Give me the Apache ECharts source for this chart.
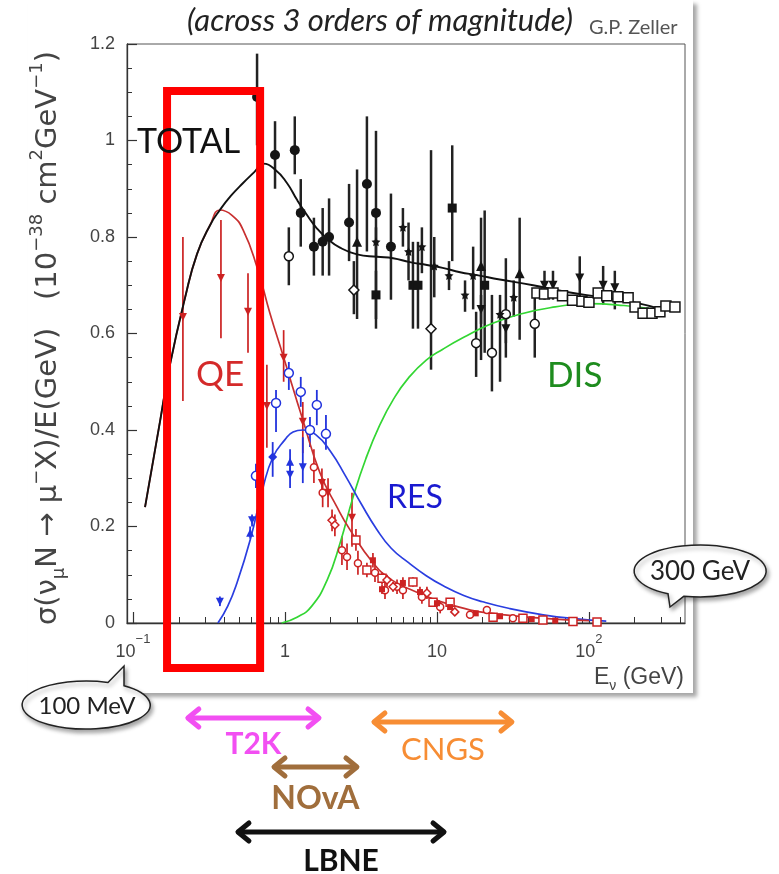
<!DOCTYPE html>
<html><head><meta charset="utf-8">
<script src="https://cdn.jsdelivr.net/npm/echarts@6/dist/echarts.min.js"></script>
<style>html,body{margin:0;padding:0;background:#fff}#c{width:779px;height:874px}</style>
</head><body><div id="c"></div><script>
// ---------------- DATA ----------------
const xMajorTicksE = [0.1, 1, 10, 100];
const xTickLabels = ['10^-1', '1', '10', '10^2'];
const xMinorTicksE = [0.2,0.3,0.4,0.5,0.6,0.7,0.8,0.9, 2,3,4,5,6,7,8,9, 20,30,40,50,60,70,80,90, 200,300,400];

// curves (E in GeV, sigma/E)
const totalE = [0.120,0.151,0.175,0.220,0.264,0.322,0.373,0.44,0.53,0.63,0.716,0.859,1.03,1.20,1.40,1.62,1.89,2.30,2.98,4.03,5.14,6.64,8.59,10.9,14.2,18.3,25.9,42.9,71.6,117,195,309];
const totalS = [0.24,0.42,0.535,0.674,0.765,0.825,0.856,0.885,0.912,0.935,0.952,0.940,0.912,0.877,0.845,0.818,0.797,0.778,0.764,0.759,0.756,0.748,0.742,0.736,0.727,0.721,0.712,0.70,0.686,0.676,0.665,0.649];
const qeE = [0.120,0.151,0.175,0.220,0.264,0.322,0.373,0.448,0.530,0.654,0.796,0.97,1.31,1.70,2.20,2.68,3.79,5.0,6.64,12.2,25.9,100];
const qeS = [0.24,0.42,0.535,0.674,0.765,0.825,0.856,0.845,0.815,0.738,0.642,0.555,0.421,0.311,0.240,0.193,0.125,0.09,0.07,0.038,0.018,0.005];
const resE = [0.362,0.42,0.483,0.59,0.716,0.834,1.0,1.13,1.31,1.6,2.0,2.5,3.2,4.0,5.0,6.5,8.5,11,15,20,30,50,80,130];
const resS = [0,0.035,0.083,0.172,0.28,0.344,0.38,0.396,0.40,0.39,0.355,0.305,0.245,0.195,0.155,0.125,0.098,0.077,0.057,0.044,0.03,0.017,0.009,0.004];
const disE = [0.95,1.2,1.5,1.9,2.3,2.8,3.4,4.2,5.2,6.5,8.5,11,15,22,35,60,100,170,290];
const disS = [0,0.012,0.035,0.09,0.165,0.26,0.34,0.41,0.465,0.508,0.545,0.568,0.592,0.618,0.64,0.655,0.662,0.658,0.649];

// data points [E, sigma, low, high]
const totalFilledCircles = [[0.655,1.09,0.99,1.18],[0.86,0.97,0.90,1.04],[1.16,0.98,0.93,1.05],[1.27,0.85,0.78,0.92],[1.55,0.78,0.72,0.84],[1.77,0.79,0.72,0.86],[1.95,0.80,0.72,0.88],[2.64,0.83,0.75,0.91],[3.46,0.91,0.77,1.05],[3.97,0.85,0.61,1.02],[4.98,0.78,0.67,0.89]];
const totalOpenCircles = [[1.06,0.76,0.70,0.82],[18.1,0.58,0.51,0.645],[23,0.56,0.48,0.68],[28.4,0.64,0.55,0.756],[44,0.62,0.55,0.68]];
const totalSquares = [[3.97,0.68,0.63,0.73],[6.95,0.70,0.61,0.79],[7.5,0.70,0.61,0.79],[12.6,0.86,0.75,0.99],[20.6,0.70,0.56,0.855]];
const totalTriangles = [[2.98,0.79,0.63,0.94],[19.5,0.74,0.545,0.84],[35,0.725,0.587,0.84]];
const totalDiamonds = [[2.84,0.69,0.64,0.75],[9.14,0.61,0.525,0.98]];
const totalStars = [[3.97,0.79,0.76,0.82],[5.97,0.82,0.78,0.86],[6.5,0.77,0.71,0.83],[7.96,0.78,0.725,0.82],[9.6,0.74,0.675,0.80],[12,0.72,0.69,0.75],[15.3,0.68,0.645,0.71],[17.3,0.72,0.65,0.78],[26,0.64,0.50,0.68],[32,0.675,0.635,0.71]];
const totalTriDown = [[19.5,0.65,0.62,0.68],[28.4,0.61,0.58,0.64],[51,0.70,0.67,0.73],[58,0.70,0.67,0.73],[87,0.715,0.66,0.76],[124,0.70,0.66,0.74],[148,0.695,0.65,0.73]];
const totalOpenSquaresE = [45.5,51,58,67,78,90,100,115,131,155,181,201,227,260,293,321,368];
const totalOpenSquaresS = [0.684,0.682,0.684,0.678,0.669,0.667,0.665,0.684,0.678,0.676,0.674,0.655,0.642,0.642,0.645,0.657,0.655];

const qeTriDown = [[0.213,0.634,0.46,0.80],[0.379,0.715,0.59,0.835],[0.571,0.645,0.56,0.725],[0.76,0.45,0.363,0.535],[0.98,0.55,0.50,0.607],[1.31,0.417,0.352,0.458],[1.75,0.29,0.26,0.32],[1.92,0.27,0.24,0.30],[2.76,0.218,0.158,0.27]];
const qeOpenCircles = [[1.55,0.323,0.29,0.36],[1.77,0.27,0.24,0.30],[2.37,0.151,0.12,0.18],[2.56,0.137,0.11,0.165],[3.02,0.124,0.10,0.15],[3.91,0.104,0.085,0.125],[4.55,0.068,0.05,0.09],[5.46,0.075,0.06,0.09],[5.97,0.068,0.05,0.085],[7.96,0.054,0.04,0.07],[10.5,0.033,0.02,0.045],[16.5,0.017,0.01,0.025],[21.3,0.027,0.02,0.035],[31.6,0.010,0.005,0.015]];
const qeOpenSquares = [[2.93,0.172,0.15,0.195],[3.46,0.11,0.095,0.125],[4.35,0.093,0.08,0.105],[6.95,0.085,0.075,0.095],[9.42,0.043,0.035,0.05],[12.2,0.043,0.035,0.05],[23.4,0.012,0.008,0.016],[36.8,0.010,0.006,0.014],[49.8,0.006,0.003,0.009],[78.5,0.003,0.001,0.005],[113,0.002,0.0,0.004]];
const qeDiamonds = [[2.04,0.213,0.19,0.235],[2.13,0.203,0.18,0.225],[4.69,0.089,0.075,0.10],[5.14,0.075,0.065,0.085],[8.59,0.062,0.05,0.075],[13.1,0.023,0.015,0.03]];
const qeFilledSquares = [[3.79,0.13,0.115,0.145],[4.35,0.07,0.06,0.08],[5.97,0.083,0.07,0.095],[7.73,0.064,0.055,0.075],[10.0,0.041,0.035,0.05],[12.2,0.033,0.027,0.04],[18,0.02,0.015,0.025],[26,0.014,0.01,0.018],[42,0.008,0.005,0.011],[60,0.005,0.003,0.007]];

const resOpenCircles = [[0.644,0.305,0.28,0.33],[0.873,0.456,0.396,0.483],[1.06,0.518,0.483,0.541],[1.27,0.479,0.448,0.51],[1.46,0.40,0.365,0.427],[1.62,0.452,0.41,0.483],[1.86,0.392,0.359,0.431]];
const resTriDown = [[0.373,0.044,0.035,0.055],[0.607,0.213,0.20,0.225],[1.08,0.307,0.28,0.33],[1.31,0.323,0.29,0.385]];
const resTriUp = [[0.59,0.187,0.175,0.20],[1.08,0.334,0.31,0.36]];
const resDiamonds = [[0.83,0.344,0.303,0.375]];

// experiment energy ranges (GeV)
const expNames = ['T2K', 'CNGS', 'NOvA', 'LBNE'];
const expLowE = [0.226, 3.79, 0.834, 0.483];
const expHighE = [1.70, 31.6, 3.02, 11.3];
const highlightE = [0.1675, 0.686];
const bubbleTexts = ['300 GeV', '100 MeV'];

// ---------------- LAYOUT / STYLE ----------------
const lg = Math.log10;
const arrowRowY = [718, 722, 767, 832];
const labelRowY = [744, 750, 799, 861];
const expColors = ['#f24ff2', '#f78d34', '#a06e3c', '#111111'];
const expFonts = ['bold 30px Lato', '31px Lato', 'bold 32px Lato', 'bold 30px Lato'];
const boxTop = 1.1026, boxBottom = -0.0933;
const bubblePaths = ['M684,596.2 L670,607 L668,593.7 A66,26 0 1 1 684,596.2 Z', 'M108,682.5 L124,666 L124,685.7 A64,24 0 1 1 108,682.5 Z'];
const bubbleTextPos = [[700, 572], [87, 706]];
const bubbleFonts = ['26px Lato', '24px Lato'];

function pts(a){ return a.map(d => [lg(d[0]), d[1]]); }
function bars(a){ return a.map(d => [lg(d[0]), d[2], d[3]]); }
function curve(E, S){ return E.map((e, i) => [lg(e), S[i]]); }

function errSeries(groups, color, w){
  let data = [];
  groups.forEach(g => { data = data.concat(bars(g)); });
  return {
    type: 'custom', silent: true, z: 4, data: data, encode: {x: 0, y: [1, 2]},
    renderItem: function(params, api){
      const x = api.value(0);
      const p1 = api.coord([x, api.value(1)]), p2 = api.coord([x, api.value(2)]);
      return {type: 'line', shape: {x1: p1[0], y1: p1[1], x2: p2[0], y2: p2[1]}, style: {stroke: color, lineWidth: w}};
    }
  };
}
function sc(data, symbol, size, fill, stroke, rot){
  return {type: 'scatter', silent: true, z: 6, data: data, symbol: symbol, symbolSize: size, symbolRotate: rot || 0,
    itemStyle: {color: fill, borderColor: stroke, borderWidth: fill === '#fff' ? 1.5 : 0, opacity: 1}};
}
function ln(E, S, color, w){
  return {type: 'line', silent: true, z: 5, data: curve(E, S), smooth: 0.5, showSymbol: false, lineStyle: {color: color, width: w}};
}
const star = 'path://M0,-10 L2.9,-4 L9.5,-3.1 L4.7,1.5 L5.9,8.1 L0,5 L-5.9,8.1 L-4.7,1.5 L-9.5,-3.1 L-2.9,-4 Z';

const BLK = '#151515', RED = '#cc2222', BLU = '#2233dd';

const series = [
  errSeries([totalFilledCircles, totalOpenCircles, totalSquares, totalTriangles, totalDiamonds, totalStars, totalTriDown], '#222', 2.5),
  errSeries([qeTriDown, qeOpenCircles, qeOpenSquares, qeDiamonds, qeFilledSquares], RED, 1.7),
  errSeries([resOpenCircles, resTriDown, resTriUp, resDiamonds], BLU, 1.8),
  ln(disE, disS, '#33d633', 1.7),
  ln(resE, resS, '#2a3ee0', 1.7),
  ln(qeE, qeS, '#c83030', 1.7),
  ln(totalE, totalS, '#111', 1.9),
  sc(pts(totalFilledCircles), 'circle', 10, BLK),
  sc(pts(totalOpenCircles), 'circle', 9, '#fff', BLK),
  sc(pts(totalSquares), 'rect', 9, BLK),
  sc(pts(totalTriangles), 'triangle', 10, BLK),
  sc(pts(totalDiamonds), 'diamond', 10, '#fff', BLK),
  sc(pts(totalStars), star, 9, BLK),
  sc(pts(totalTriDown), 'triangle', 9, BLK, null, 180),
  sc(curve(totalOpenSquaresE, totalOpenSquaresS), 'rect', 10, '#fff', BLK),
  sc(pts(qeTriDown), 'triangle', 8, RED, null, 180),
  sc(pts(qeOpenCircles), 'circle', 7, '#fff', RED),
  sc(pts(qeOpenSquares), 'rect', 8, '#fff', RED),
  sc(pts(qeDiamonds), 'diamond', 8, '#fff', RED),
  sc(pts(qeFilledSquares), 'rect', 6, RED),
  sc(pts(resOpenCircles), 'circle', 9, '#fff', BLU),
  sc(pts(resTriDown), 'triangle', 8, BLU, null, 180),
  sc(pts(resTriUp), 'triangle', 8, BLU),
  sc(pts(resDiamonds), 'diamond', 9, BLU),
  { // highlighted energy window
    type: 'custom', silent: true, z: 20, clip: false,
    data: [[lg(highlightE[0]), lg(highlightE[1]), 0]], encode: {x: [0, 1], y: 2},
    renderItem: function(params, api){
      const a = api.coord([api.value(0), boxTop]);
      const b = api.coord([api.value(1), boxBottom]);
      return {type: 'rect', shape: {x: a[0], y: a[1], width: b[0] - a[0], height: b[1] - a[1]},
        style: {fill: 'none', stroke: '#ff0000', lineWidth: 8}};
    }
  },
  { // experiment energy ranges
    type: 'custom', silent: true, z: 20, clip: false,
    data: expNames.map((n, i) => [lg(expLowE[i]), lg(expHighE[i]), 0]), encode: {x: [0, 1], y: 2},
    renderItem: function(params, api){
      const i = params.dataIndex;
      const x1 = api.coord([api.value(0), 0])[0], x2 = api.coord([api.value(1), 0])[0];
      const y = arrowRowY[i], col = expColors[i], h = 9, l = 12;
      const st = {stroke: col, lineWidth: 5, fill: 'none', lineCap: 'round', lineJoin: 'round'};
      return {type: 'group', children: [
        {type: 'line', shape: {x1: x1 + 2, y1: y, x2: x2 - 2, y2: y}, style: st},
        {type: 'polyline', shape: {points: [[x1 + l, y - h], [x1 + 1, y], [x1 + l, y + h]]}, style: st},
        {type: 'polyline', shape: {points: [[x2 - l, y - h], [x2 - 1, y], [x2 - l, y + h]]}, style: st},
        {type: 'text', style: {text: expNames[i], x: (x1 + x2) / 2, y: labelRowY[i], fill: col, font: expFonts[i], align: 'center', verticalAlign: 'middle'}}
      ]};
    }
  },
  { // speech bubbles
    type: 'custom', silent: true, z: 30, clip: false,
    data: bubbleTexts.map((t, i) => [0, 0, i]), encode: {x: 0, y: 1},
    renderItem: function(params, api){
      const i = params.dataIndex;
      return {type: 'group', children: [
        {type: 'path', shape: {pathData: bubblePaths[i]},
         style: {fill: '#fff', stroke: '#222', lineWidth: 1.5, shadowBlur: 4, shadowOffsetX: 2, shadowOffsetY: 3, shadowColor: 'rgba(0,0,0,0.35)'}},
        {type: 'text', style: {text: bubbleTexts[i], x: bubbleTextPos[i][0], y: bubbleTextPos[i][1], font: bubbleFonts[i], fill: '#222', align: 'center', verticalAlign: 'middle'}}
      ]};
    }
  }
];

const chart = echarts.init(document.getElementById('c'), null, {renderer: 'canvas'});
const axisCol = '#333';
chart.setOption({
  animation: false,
  backgroundColor: '#fff',
  grid: {left: 127, right: 94, top: 44, bottom: 251, show: true, borderColor: '#555', borderWidth: 1, backgroundColor: 'transparent'},
  xAxis: [
    {type: 'value', min: -1.0395, max: 2.632, position: 'bottom',
     axisLine: {show: true, onZero: false, lineStyle: {color: axisCol, width: 1.3}},
     splitLine: {show: false},
     axisTick: {show: true, inside: true, length: 11, customValues: xMajorTicksE.map(lg), lineStyle: {color: axisCol, width: 1.2}},
     axisLabel: {customValues: xMajorTicksE.map(lg), margin: 10, color: '#444', fontFamily: 'Liberation Sans', fontSize: 18,
       formatter: function(v){
         const i = xMajorTicksE.findIndex(e => Math.abs(lg(e) - v) < 1e-6);
         const t = xTickLabels[i] || '';
         const p = t.split('^');
         return p.length > 1 ? '{b|' + p[0] + '}{s|' + p[1].replace('-', '\u2212') + '}' : '{b|' + t + '}';
       },
       rich: {b: {fontSize: 18, fontFamily: 'Liberation Sans', color: '#444', lineHeight: 28, verticalAlign: 'bottom'},
              s: {fontSize: 13, fontFamily: 'Liberation Sans', color: '#444', lineHeight: 14, verticalAlign: 'top'}}}
    },
    {type: 'value', min: -1.0395, max: 2.632, position: 'bottom', offset: 0,
     axisLine: {show: false, onZero: false}, splitLine: {show: false}, axisLabel: {show: false},
     axisTick: {show: true, inside: true, length: 6, customValues: xMinorTicksE.map(lg), lineStyle: {color: axisCol, width: 1}}}
  ],
  yAxis: {type: 'value', min: 0, max: 1.2, interval: 0.2,
    axisLine: {show: true, onZero: false, lineStyle: {color: axisCol, width: 1.3}},
    splitLine: {show: false},
    axisTick: {inside: true, length: 10, lineStyle: {color: axisCol, width: 1.2}},
    minorTick: {show: true, splitNumber: 4, length: 5, lineStyle: {color: axisCol, width: 1}},
    axisLabel: {margin: 12, color: '#444', fontFamily: 'Liberation Sans', fontSize: 18}
  },
  series: series,
  graphic: [
    {type: 'rect', z: -10, shape: {x: 28, y: 0, width: 665, height: 693},
     style: {fill: '#fff', shadowBlur: 4, shadowOffsetX: 4, shadowOffsetY: 4, shadowColor: 'rgba(0,0,0,0.35)'}},
    {type: 'text', z: 100, x: 380, y: 21, style: {text: '(across 3 orders of magnitude)', font: 'italic 31px Lato', fill: '#222', align: 'center', verticalAlign: 'middle'}},
    {type: 'text', z: 100, x: 589, y: 28, style: {text: 'G.P. Zeller', font: '20px Lato', fill: '#555', align: 'left', verticalAlign: 'middle'}},
    {type: 'text', z: 100, x: 137, y: 142, style: {text: 'TOTAL', font: '34px Lato', fill: '#111', align: 'left', verticalAlign: 'middle'}},
    {type: 'text', z: 100, x: 196, y: 375, style: {text: 'QE', font: '35px Lato', fill: '#d42a2a', align: 'left', verticalAlign: 'middle'}},
    {type: 'text', z: 100, x: 387, y: 498, style: {text: 'RES', font: '32px Lato', fill: '#1a1ad0', align: 'left', verticalAlign: 'middle'}},
    {type: 'text', z: 100, x: 547, y: 376, style: {text: 'DIS', font: '35px Lato', fill: '#1e8c1e', align: 'left', verticalAlign: 'middle'}},
    {type: 'text', z: 100, x: 48, y: 338, rotation: Math.PI / 2,
     style: {text: '{n|\u03c3(\u03bd}{sb|\u03bc}{n|N \u2192 \u03bc}{sp|\u2212}{n|X)/E(GeV)   (10}{sp|\u221238}{n| cm}{sp|2}{n|GeV}{sp|\u22121}{n|)}',
       align: 'center', verticalAlign: 'middle', fill: '#444', font: '29px DejaVu Sans',
       rich: {n: {fontSize: 29, fontFamily: 'DejaVu Sans', fill: '#444', lineHeight: 40},
              sb: {fontSize: 18, fontFamily: 'DejaVu Sans', fill: '#444', lineHeight: 18, verticalAlign: 'bottom'},
              sp: {fontSize: 18, fontFamily: 'DejaVu Sans', fill: '#444', lineHeight: 18, verticalAlign: 'top'}}}},
    {type: 'text', z: 100, x: 684, y: 678,
     style: {text: '{n|E}{sb|\u03bd}{n| (GeV)}', align: 'right', verticalAlign: 'middle', fill: '#444', font: '23px Liberation Sans',
       rich: {n: {fontSize: 23, fontFamily: 'Liberation Sans', fill: '#444', lineHeight: 30},
              sb: {fontSize: 14, fontFamily: 'Liberation Sans', fill: '#444', lineHeight: 14, verticalAlign: 'bottom'}}}}
  ]
});
</script></body></html>
